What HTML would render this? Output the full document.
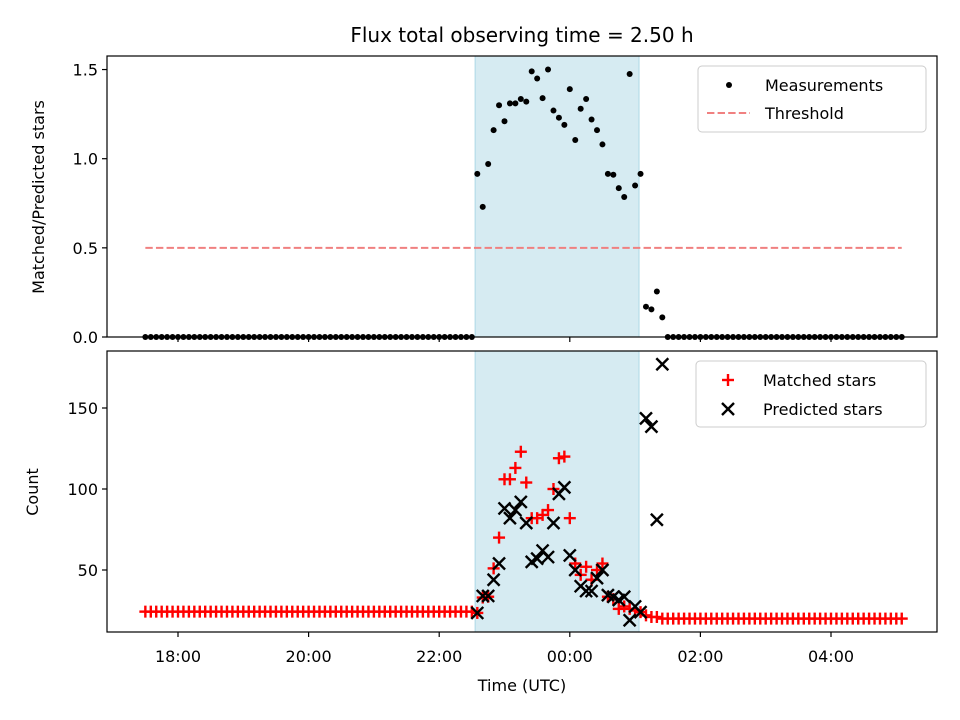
<!DOCTYPE html>
<html><head><meta charset="utf-8"><style>
body{margin:0;background:#fff}
svg{display:block}
text{font-family:"DejaVu Sans","Liberation Sans",sans-serif;fill:#000}
</style></head><body>
<svg id="chart" width="960" height="720" viewBox="0 0 960 720" xmlns="http://www.w3.org/2000/svg"></svg>
<script>
// ---- data ----
const startHour = 17.5;        // first sample time (hours, 18 = 18:00)
const stepMinutes = 5;
const nSamples = 140;
const activeStart = 61;
const ratioActive = [0.915,0.73,0.97,1.16,1.30,1.21,1.31,1.31,1.335,1.32,1.49,1.45,1.34,1.50,1.27,1.23,1.19,1.39,1.105,1.28,1.335,1.22,1.16,1.08,0.915,0.91,0.835,0.785,1.475,0.85,0.915,0.17,0.155,0.255,0.11];
const matchedActive = [23.5,33,33.5,51,70,106,106,113,123,104,82,82,84,87,100,119,120,82,54,47,52,44,50,54,33.5,32,26,27.5,26,25,24,22,21,21,20];
const predictedActive = [23.5,34,34,44,54,88,82,87,92,79,55,57,62,58,79,97,101,59,50,40,37,37,45,50,34.5,33.5,31.5,33.5,19,27.5,24,143.6,138.5,81,177];
const matchedBefore = 24.3;
const matchedAfter = 20;
const threshold = 0.5;
const spanStart = 22.55, spanEnd = 25.06;
const xTicks = [18,20,22,24,26,28];
const xTickLabels = ["18:00","20:00","22:00","00:00","02:00","04:00"];
const topTicks = [0,0.5,1.0,1.5];
const topTickLabels = ["0.0","0.5","1.0","1.5"];
const botTicks = [50,100,150];
const botTickLabels = ["50","100","150"];

// ---- scales ----
const X0=107, X1=937;
const xs = t => 178 + (t-18)*65.3;
const T0=56, T1=337;
const ys1 = v => 337 - v*178.3;
const B0=351, B1=632;
const ys2 = v => 651 - v*1.62;

const svg=document.getElementById('chart');
const NS='http://www.w3.org/2000/svg';
function mk(tag, attrs, parent){const e=document.createElementNS(NS,tag);for(const k in attrs)e.setAttribute(k,attrs[k]);(parent||svg).appendChild(e);return e;}

const times=[];for(let i=0;i<nSamples;i++)times.push(startHour+i*stepMinutes/60);

function panel(y0,y1,name){
  const g=mk('g',{});
  
  
  const sp=mk('rect',{x:xs(spanStart),y:y0,width:xs(spanEnd)-xs(spanStart),height:y1-y0,fill:'#add8e6','fill-opacity':0.5,stroke:'#add8e6','stroke-width':1},g);
  
  
  return g;
}
function frame(y0,y1,showLabels){
  mk('rect',{x:X0,y:y0,width:X1-X0,height:y1-y0,fill:'none',stroke:'#000','stroke-width':1.2});
  xTicks.forEach((t,i)=>{
    mk('line',{x1:xs(t),x2:xs(t),y1:y1,y2:y1+5,stroke:'#000','stroke-width':1.2});
    if(showLabels){const tx=mk('text',{x:xs(t),y:y1+30,'font-size':16,'text-anchor':'middle'});tx.textContent=xTickLabels[i];
      }
  });
}

// ---- top panel ----
const gt=panel(T0,T1,'ratio-panel');
const th=mk('line',{x1:xs(times[0]),x2:xs(times[nSamples-1]),y1:ys1(threshold),y2:ys1(threshold),stroke:'#f08080','stroke-width':2,'stroke-dasharray':'7.4,3.2'},gt);

for(let i=0;i<nSamples;i++){
  const k=i-activeStart;
  const v=(k>=0&&k<ratioActive.length)?ratioActive[k]:0;
  const c=mk('circle',{cx:xs(times[i]),cy:ys1(v),r:3,fill:'#000'},gt);
  
}
frame(T0,T1,false);
topTicks.forEach((v,i)=>{
  mk('line',{x1:X0-5,x2:X0,y1:ys1(v),y2:ys1(v),stroke:'#000','stroke-width':1.2});
  const tx=mk('text',{x:X0-9,y:ys1(v)+6,'font-size':16,'text-anchor':'end'});tx.textContent=topTickLabels[i];
  
});

// ---- bottom panel ----
const gb=panel(B0,B1,'count-panel');
function plus(x,y,p){const g=mk('g',{stroke:'#ff0000','stroke-width':2.4},p);mk('line',{x1:x-6,x2:x+6,y1:y,y2:y},g);mk('line',{x1:x,x2:x,y1:y-6,y2:y+6},g);return g;}
function cross(x,y,p){const g=mk('g',{stroke:'#000','stroke-width':2.4},p);mk('line',{x1:x-6,x2:x+6,y1:y-6,y2:y+6},g);mk('line',{x1:x-6,x2:x+6,y1:y+6,y2:y-6},g);return g;}
for(let i=0;i<nSamples;i++){
  const k=i-activeStart;
  const v=k<0?matchedBefore:(k<matchedActive.length?matchedActive[k]:matchedAfter);
  const m=plus(xs(times[i]),ys2(v),gb);
  
}
predictedActive.forEach((v,k)=>{
  const m=cross(xs(times[activeStart+k]),ys2(v),gb);
  
});
frame(B0,B1,true);
botTicks.forEach((v,i)=>{
  mk('line',{x1:X0-5,x2:X0,y1:ys2(v),y2:ys2(v),stroke:'#000','stroke-width':1.2});
  const tx=mk('text',{x:X0-9,y:ys2(v)+6,'font-size':16,'text-anchor':'end'});tx.textContent=botTickLabels[i];
  
});
</script>
<svg width="960" height="720" style="position:absolute;left:0;top:0" xmlns="http://www.w3.org/2000/svg">
<text x="522" y="42" font-size="20" text-anchor="middle">Flux total observing time = 2.50 h</text>
<text transform="translate(44,197) rotate(-90)" font-size="16" text-anchor="middle">Matched/Predicted stars</text>
<text transform="translate(38,492) rotate(-90)" font-size="16" text-anchor="middle">Count</text>
<text x="522" y="691" font-size="16" text-anchor="middle">Time (UTC)</text>
<g>
<rect x="698" y="66" width="228" height="66" rx="4" fill="#fff" fill-opacity="0.8" stroke="#ccc" stroke-width="1"/>
<circle cx="729" cy="85" r="3" fill="#000"/>
<text x="765" y="91" font-size="16">Measurements</text>
<line x1="707" y1="113" x2="750" y2="113" stroke="#f08080" stroke-width="2" stroke-dasharray="7.4,3.2"/>
<text x="765" y="119" font-size="16">Threshold</text>
</g>
<g>
<rect x="696" y="361" width="230" height="66" rx="4" fill="#fff" fill-opacity="0.8" stroke="#ccc" stroke-width="1"/>
<g stroke="#ff0000" stroke-width="2.4"><line x1="722" y1="380" x2="734" y2="380"/><line x1="728" y1="374" x2="728" y2="386"/></g>
<text x="763" y="386" font-size="16">Matched stars</text>
<g stroke="#000" stroke-width="2.4"><line x1="722" y1="403" x2="734" y2="415"/><line x1="722" y1="415" x2="734" y2="403"/></g>
<text x="763" y="415" font-size="16">Predicted stars</text>
</g>
</svg>
</body></html>
